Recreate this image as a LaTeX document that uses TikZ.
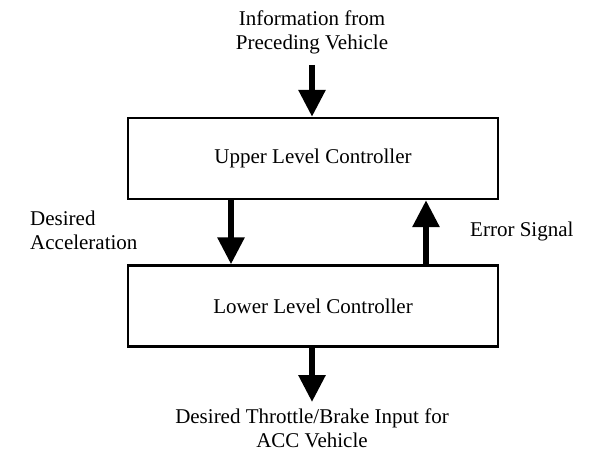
\documentclass[tikz,border=0pt]{standalone}
\usepackage{fontspec}
\setmainfont{Liberation Serif}
\usetikzlibrary{arrows.meta}
\begin{document}
\begin{tikzpicture}[x=1pt,y=-1pt,
  ctrlbox/.style={draw, line width=2.4pt, minimum width=370pt, minimum height=81pt,
    inner sep=0pt, font=\fontsize{21}{24}\selectfont},
  label/.style={inner sep=0pt, font=\fontsize{21}{24}\selectfont},
  flow/.style={line width=6pt, -{Triangle[length=27pt,width=26pt]}}]
  \useasboundingbox (0,0) rectangle (601,457);

  % controller blocks
  \node[ctrlbox] (upper) at (313,158.5) {Upper Level Controller};
  \node[ctrlbox] (lower) at (313,306) {Lower Level Controller};

  % texts
  \node[label, align=center] (info) at (312,32) {Information from\\Preceding Vehicle};
  \node[label, align=left, anchor=west] (dacc) at (30,230) {Desired\\Acceleration};
  \node[label, anchor=west] (err) at (470,231) {Error Signal};
  \node[label, align=center] (out) at (312,428) {Desired Throttle/Brake Input for\\ACC Vehicle};

  % free ends of the vertical arrows
  \coordinate (infoend) at (312,65);
  \coordinate (outend) at (312,402);

  % signal arrows
  \draw[flow] (infoend) -- (upper.north -| infoend);
  \draw[flow] ([xshift=-82pt]upper.south) -- ([xshift=-82pt]lower.north);
  \draw[flow] ([xshift=113pt]lower.north) -- ([xshift=113pt]upper.south);
  \draw[flow] (lower.south -| outend) -- (outend);
\end{tikzpicture}
\end{document}
